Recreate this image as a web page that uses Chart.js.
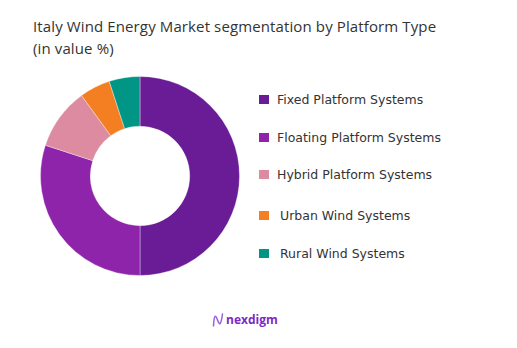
<!DOCTYPE html>
<html>
<head>
<meta charset="utf-8">
<script src="https://cdn.jsdelivr.net/npm/chart.js@4.4.0/dist/chart.umd.min.js"></script>
<style>
  body { margin: 0; background: #fff; width: 517px; height: 348px; position: relative; overflow: hidden; font-family: "Open Sans", sans-serif; }
  #title { position: absolute; left: 33px; top: 15px; font-size: 15px; letter-spacing: 0.12px; line-height: 22px; color: #333; }
  #chart-wrap { position: absolute; left: 40px; top: 76px; width: 200px; height: 200px; }
  #legend { position: absolute; left: 259px; top: 0; }
  .leg-item { position: absolute; left: 0; white-space: nowrap; font-family: "DejaVu Sans", sans-serif; font-size: 12.5px; color: #333; height: 16px; line-height: 16px; }
  .leg-box { position: absolute; left: 0; top: 3px; width: 10px; height: 9px; }
  .leg-text { position: absolute; top: 0; }
  #logo { position: absolute; left: 212px; top: 310px; height: 20px; }
  #logo svg { position: absolute; left: 0; top: 3px; }
  #logo span { position: absolute; left: 14px; top: 0; font-size: 12px; font-weight: 700; color: #7a2bc4; line-height: 20px; }
</style>
</head>
<body>
<div id="title">Italy Wind Energy Market segmentation by Platform Type<br>(in value %)</div>
<div id="chart-wrap"><canvas id="donut"></canvas></div>
<div id="legend"></div>
<div id="logo">
  <svg width="12" height="14" viewBox="0 0 12 14">
    <path d="M1.5 13 C 2 2, 3.5 1, 5.5 7 C 7.5 13, 9 12, 10.5 1" stroke="#9b5de5" stroke-width="1.5" fill="none" stroke-linecap="round"/>
  </svg>
  <span>nexdigm</span>
</div>
<script>
// data
const segments = ['Fixed Platform Systems', 'Floating Platform Systems', 'Hybrid Platform Systems', 'Urban Wind Systems', 'Rural Wind Systems'];
const shares = [50, 30, 10, 5, 5];
const colors = ['#6a1b96', '#8e24aa', '#dc8ba0', '#f47f22', '#009585'];
const legendRows = [100, 138, 175, 216, 254];
const legendIndent = [18, 18, 18, 21, 21];

// legend (html)
const legendEl = document.getElementById('legend');
segments.forEach((name, i) => {
    const item = document.createElement('div');
    item.className = 'leg-item';
    item.style.top = (legendRows[i] - 8) + 'px';
    item.innerHTML = `<div class="leg-box" style="background:${colors[i]}"></div><div class="leg-text" style="left:${legendIndent[i]}px">${name}</div>`;
    legendEl.appendChild(item);
});

new Chart(document.getElementById('donut'), {
    type: 'doughnut',
    data: {
        labels: segments,
        datasets: [{
            data: shares,
            backgroundColor: colors,
            borderColor: 'rgba(255,255,255,0.35)',
            borderWidth: 1
        }]
    },
    options: {
        responsive: true,
        maintainAspectRatio: false,
        animation: false,
        cutout: '50%',
        layout: { padding: 0 },
        plugins: {
            legend: { display: false },
            tooltip: { enabled: false }
        }
    }
});
</script>
</body>
</html>
